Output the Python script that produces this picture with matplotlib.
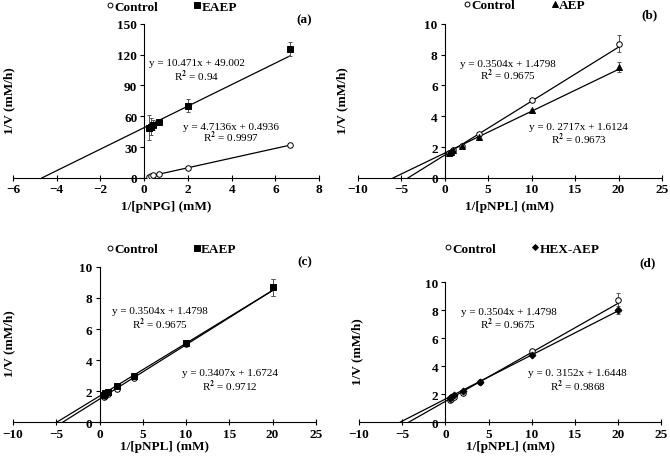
import numpy as np
import matplotlib
matplotlib.use("Agg")
import matplotlib.pyplot as plt

plt.rcParams['font.family'] = ['Liberation Serif', 'DejaVu Serif']
plt.rcParams['font.weight'] = 'bold'
plt.rcParams['mathtext.fontset'] = 'stix'

# ---- données ----
# (a) pNPG
xa = [0.2, 0.3, 0.4, 0.67, 2, 6.67]
ctrl_a = [1.4, 1.9, 2.4, 3.6, 9.9, 31.9]
ctrl_a_err = [0.5, 0.5, 0.5, 0.6, 1.0, 1.5]
eaep_a = [49.0, 50.0, 51.5, 54.5, 70.5, 125.5]
eaep_a_err = [12, 8, 5, 2, 6, 7]

# (b), (c), (d) pNPL
xb = [0.5, 0.67, 1, 2, 4, 10, 20]
ctrl_b = [1.6, 1.65, 1.8, 2.1, 2.85, 5.05, 8.7]
ctrl_b_err = [0.05, 0.05, 0.05, 0.08, 0.1, 0.12, 0.55]
aep_b = [1.65, 1.7, 1.8, 2.1, 2.65, 4.4, 7.2]
aep_b_err = [0.05, 0.05, 0.05, 0.05, 0.1, 0.1, 0.35]
eaep_c = [1.75, 1.85, 1.95, 2.3, 3.0, 5.1, 8.7]
eaep_c_err = [0.05, 0.05, 0.05, 0.05, 0.08, 0.1, 0.55]
hex_d = [1.75, 1.8, 1.9, 2.25, 2.85, 4.8, 8.0]
hex_d_err = [0.05, 0.05, 0.05, 0.05, 0.08, 0.1, 0.3]

# équations des droites (pente, ordonnée)
fit_ctrl_a = (4.7136, 0.4936)
fit_eaep_a = (10.471, 49.002)
fit_ctrl = (0.3504, 1.4798)
fit_aep = (0.2717, 1.6124)
fit_eaep = (0.3407, 1.6724)
fit_hex = (0.3152, 1.6448)

panels = [
    dict(pos=[0.0194, 0.611, 0.457, 0.335], x=xa, xlim=(-6, 8), xticks=np.arange(-6, 9, 2),
         ylim=(0, 150), yticks=np.arange(0, 151, 30), xlabel="1/[pNPG] (mM)", lpad=3,
         series=[("Control", ctrl_a, ctrl_a_err, 'o', 'white', fit_ctrl_a, False),
                 ("EAEP", eaep_a, eaep_a_err, 's', 'black', fit_eaep_a, True)],
         texts=[(2.4, 112, "y = 10.471x + 49.002"), (2.4, 100, "R$^2$ = 0.94"),
                (3.95, 50.5, "y = 4.7136x + 0.4936"), (3.95, 40, "R$^2$ = 0.9997")],
         letter="(a)", letterpos=(0.466, 0.955), leg=(0.52, 1.11), ylab=0.008),
    dict(pos=[0.534, 0.611, 0.454, 0.335], x=xb, xlim=(-10, 25), xticks=np.arange(-10, 26, 5),
         ylim=(0, 10), yticks=np.arange(0, 11, 2), xlabel="1/[pNPL] (mM)", lpad=3,
         series=[("Control", ctrl_b, ctrl_b_err, 'o', 'white', fit_ctrl, True),
                 ("AEP", aep_b, aep_b_err, '^', 'black', fit_aep, True)],
         texts=[(7.3, 7.45, "y = 0.3504x + 1.4798"), (7.3, 6.69, "R$^2$ = 0.9675"),
                (15.4, 3.33, "y = 0. 2717x + 1.6124"), (15.4, 2.58, "R$^2$ = 0.9673")],
         letter="(b)", letterpos=(0.982, 0.967), leg=(0.55, 1.12), ylab=-0.03),
    dict(pos=[0.0194, 0.0804, 0.452, 0.337], x=xb, xlim=(-10, 25), xticks=np.arange(-10, 26, 5),
         ylim=(0, 10), yticks=np.arange(0, 11, 2), xlabel="1/[pNPL] (mM)", lpad=0,
         series=[("Control", ctrl_b, ctrl_b_err, 'o', 'white', fit_ctrl, True),
                 ("EAEP", eaep_c, eaep_c_err, 's', 'black', fit_eaep, True)],
         texts=[(7.0, 7.19, "y = 0.3504x + 1.4798"), (7.0, 6.37, "R$^2$ = 0.9675"),
                (15.1, 3.2, "y = 0.3407x + 1.6724"), (15.1, 2.38, "R$^2$ = 0.9712")],
         letter="(c)", letterpos=(0.466, 0.43), leg=(0.525, 1.116), ylab=0.008),
    dict(pos=[0.536, 0.0804, 0.451, 0.304], x=xb, xlim=(-10, 25), xticks=np.arange(-10, 26, 5),
         ylim=(0, 10), yticks=np.arange(0, 11, 2), xlabel="1/[pNPL] (mM)", lpad=0,
         series=[("Control", ctrl_b, ctrl_b_err, 'o', 'white', fit_ctrl, True),
                 ("HEX-AEP", hex_d, hex_d_err, 'D', 'black', fit_hex, True)],
         texts=[(7.3, 7.9, "y = 0.3504x + 1.4798"), (7.3, 7.06, "R$^2$ = 0.9675"),
                (15.3, 3.54, "y = 0. 3152x + 1.6448"), (15.3, 2.63, "R$^2$ = 0.9868")],
         letter="(d)", letterpos=(0.978, 0.428), leg=(0.54, 1.24), ylab=0.013),
]

fig = plt.figure(figsize=(6.7, 4.6), dpi=100)

for p in panels:
    ax = fig.add_axes(p["pos"])
    handles = []
    for nom, y, err, mk, fc, fit, prolonge in p["series"]:
        pente, orig = fit
        x0 = -orig / pente if prolonge else p["x"][0]
        xs = np.array([x0, p["x"][-1]])
        ax.plot(xs, pente * xs + orig, color='black', lw=0.9, zorder=2)
        ms = 4 if mk == 'o' else (3.5 if mk == 'D' else 4.5)
        ax.errorbar(p["x"], y, yerr=err, fmt=mk, mfc=fc, mec='black', mew=0.7, ms=ms,
                    ecolor='#555555', elinewidth=0.7, capsize=1.2, capthick=0.6, zorder=3)
        h, = ax.plot([], [], mk, mfc=fc, mec='black', mew=0.7, ms=ms - 0.5)
        handles.append((h, nom))
    ax.set_xlim(*p["xlim"])
    ax.set_ylim(*p["ylim"])
    ax.set_xticks(p["xticks"])
    ax.set_yticks(p["yticks"])
    ax.spines['left'].set_position(('data', 0))
    ax.spines['top'].set_visible(False)
    ax.spines['right'].set_visible(False)
    for s in ('left', 'bottom'):
        ax.spines[s].set_linewidth(0.8)
    ax.tick_params(axis='x', direction='inout', length=4, width=0.8, labelsize=9.5, pad=2)
    ax.tick_params(axis='y', direction='out', length=3, width=0.8, labelsize=9.5, pad=2)
    ax.set_xlabel(p["xlabel"], fontsize=9.5, fontweight='bold', labelpad=p["lpad"])
    ax.set_ylabel("1/V (mM/h)", fontsize=9.5, fontweight='bold')
    ax.yaxis.set_label_coords(p["ylab"], 0.51)
    ax.patch.set_alpha(0)
    for tx, ty, t in p["texts"]:
        ax.text(tx, ty, t, fontsize=8, fontweight='normal', ha='center', va='center')
    ax.legend([h for h, _ in handles], [n for _, n in handles], loc='center',
              bbox_to_anchor=p["leg"], ncol=2, frameon=False, handlelength=0.4,
              handletextpad=0.1, columnspacing=2.8, prop=dict(weight='bold', size=9.5))
    fig.text(p["letterpos"][0], p["letterpos"][1], p["letter"], fontsize=9.5,
             fontweight='bold', ha='right', va='center')

plt.savefig("out.png", dpi=100)
